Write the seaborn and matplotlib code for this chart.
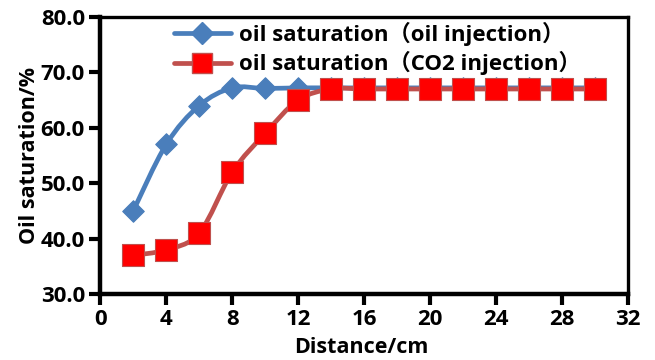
import numpy as np
import pandas as pd
import matplotlib
matplotlib.use("Agg")
import matplotlib.pyplot as plt
from matplotlib.path import Path
from matplotlib.patches import PathPatch
from matplotlib.lines import Line2D
import seaborn as sns

distance = [2, 4, 6, 8, 10, 12, 14, 16, 18, 20, 22, 24, 26, 28, 30]
oil_injection = [45.0, 57.0, 64.0, 67.2, 67.1, 67.2, 67.2, 67.2, 67.2, 67.2, 67.2, 67.2, 67.2, 67.2, 67.2]
co2_injection = [37.0, 38.0, 41.0, 52.0, 59.0, 65.0, 67.0, 67.0, 67.0, 67.0, 67.0, 67.0, 67.0, 67.0, 67.0]
label_oil = "oil saturation\uff08oil injection\uff09"
label_co2 = "oil saturation\uff08CO2 injection\uff09"
x_ticks = [0, 4, 8, 12, 16, 20, 24, 28, 32]
y_ticks = [30, 40, 50, 60, 70, 80]

sns.set_theme(style="white")
FAM = ["Open Sans", "Noto Sans CJK SC", "DejaVu Sans"]
plt.rcParams["font.family"] = FAM
plt.rcParams["font.weight"] = "bold"
for k in ["text.color", "axes.labelcolor", "xtick.color", "ytick.color", "xtick.labelcolor", "ytick.labelcolor"]:
    plt.rcParams[k] = "black"

BLUE = "#4A7EBB"
RED_LINE = "#C0504D"
RED_MK = "#FF0000"

fig = plt.figure(figsize=(6.55, 3.6), dpi=100)
ax = fig.add_axes([0.153, 0.183, 0.806, 0.770])

def smooth_path(xs, ys):
    pts = np.column_stack([xs, ys]).astype(float)
    n = len(pts)
    verts = [pts[0]]
    codes = [Path.MOVETO]
    for i in range(n - 1):
        p0 = pts[i - 1] if i > 0 else pts[i]
        p1 = pts[i]
        p2 = pts[i + 1]
        p3 = pts[i + 2] if i + 2 < n else pts[i + 1]
        c1 = p1 + (p2 - p0) / 6.0
        c2 = p2 - (p3 - p1) / 6.0
        verts += [c1, c2, p2]
        codes += [Path.CURVE4] * 3
    return Path(verts, codes)

df = pd.DataFrame({"distance": distance, "oil": oil_injection, "co2": co2_injection})

ax.add_patch(PathPatch(smooth_path(df["distance"], df["oil"]), fill=False,
                       edgecolor=BLUE, lw=3.4, zorder=2, capstyle="round"))
ax.add_patch(PathPatch(smooth_path(df["distance"], df["co2"]), fill=False,
                       edgecolor=RED_LINE, lw=3.4, zorder=4, capstyle="round"))

sns.scatterplot(data=df, x="distance", y="oil", ax=ax, marker="D", s=120,
                color=BLUE, edgecolor=BLUE, linewidth=0.8, zorder=3, legend=False)
sns.scatterplot(data=df, x="distance", y="co2", ax=ax, marker="s", s=230,
                color=RED_MK, edgecolor=RED_LINE, linewidth=0.8, zorder=5, legend=False)

ax.set_xlim(0, 32)
ax.set_ylim(30, 80)
ax.set_xticks(x_ticks)
ax.set_yticks(y_ticks)
ax.set_xticklabels([str(t) for t in x_ticks])
ax.set_yticklabels([f"{t:.1f}" for t in y_ticks])
ax.tick_params(axis="both", which="major", direction="out", length=8, width=3,
               color="black", labelcolor="black", labelsize=16, pad=3, bottom=True, left=True)
for lab in ax.get_xticklabels() + ax.get_yticklabels():
    lab.set_fontweight("bold")
for side in ["left", "bottom"]:
    ax.spines[side].set_linewidth(3.2)
    ax.spines[side].set_color("black")
for side in ["top", "right"]:
    ax.spines[side].set_linewidth(2.4)
    ax.spines[side].set_color("black")

ax.set_xlabel("Distance/cm", fontsize=15.5, fontweight="bold", color="black")
ax.xaxis.set_label_coords(0.495, -0.155)
ax.set_ylabel("Oil saturation/%", fontsize=15.5, fontweight="bold", color="black")
ax.yaxis.set_label_coords(-0.114, 0.5)

handles = [
    Line2D([0], [0], color=BLUE, lw=3.4, marker="D", markersize=11, markerfacecolor=BLUE, markeredgecolor=BLUE),
    Line2D([0], [0], color=RED_LINE, lw=3.4, marker="s", markersize=14, markerfacecolor=RED_MK, markeredgecolor=RED_LINE),
]
leg = ax.legend(handles, [label_oil, label_co2], loc="upper left", bbox_to_anchor=(0.102, 1.055),
                frameon=False, handlelength=2.55, handletextpad=0.35, labelspacing=0.25,
                prop={"weight": "bold", "size": 16, "family": FAM})
for t in leg.get_texts():
    t.set_color("black")

fig.savefig("out.png", dpi=100, facecolor="white")
